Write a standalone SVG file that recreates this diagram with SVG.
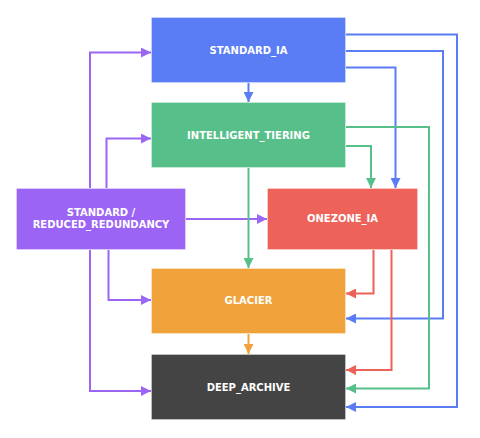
<svg xmlns="http://www.w3.org/2000/svg" width="480" height="438" viewBox="0 0 480 438">
<style>
.box{stroke:rgba(255,255,255,0.3);stroke-width:1}
.lbl{font-family:"DejaVu Sans","Liberation Sans",sans-serif;font-weight:bold;font-size:10px;fill:#ffffff;text-anchor:middle}
.c{fill:none;stroke-width:2;stroke-linejoin:miter}
.pu{stroke:#9c66f4}
.bl{stroke:#5a7df5}
.gr{stroke:#57c08a}
.rd{stroke:#ec6259}
.or{stroke:#f0a33c}
</style>
<defs>
<marker id="aPu" markerUnits="userSpaceOnUse" markerWidth="10" markerHeight="10" refX="10" refY="5" orient="auto"><path d="M0,0 L10,5 L0,10 z" fill="#9c66f4"/></marker>
<marker id="aBl" markerUnits="userSpaceOnUse" markerWidth="10" markerHeight="10" refX="10" refY="5" orient="auto"><path d="M0,0 L10,5 L0,10 z" fill="#5a7df5"/></marker>
<marker id="aGr" markerUnits="userSpaceOnUse" markerWidth="10" markerHeight="10" refX="10" refY="5" orient="auto"><path d="M0,0 L10,5 L0,10 z" fill="#57c08a"/></marker>
<marker id="aRd" markerUnits="userSpaceOnUse" markerWidth="10" markerHeight="10" refX="10" refY="5" orient="auto"><path d="M0,0 L10,5 L0,10 z" fill="#ec6259"/></marker>
<marker id="aOr" markerUnits="userSpaceOnUse" markerWidth="10" markerHeight="10" refX="10" refY="5" orient="auto"><path d="M0,0 L10,5 L0,10 z" fill="#f0a33c"/></marker>
</defs>
<rect width="480" height="438" fill="#ffffff"/>
<g id="nodes">
<g id="standard_ia"><rect class="box" x="151.5" y="17.5" width="194" height="65" fill="#5a7cf5"/><text class="lbl" x="248.5" y="53.5">STANDARD_IA</text></g>
<g id="intelligent_tiering"><rect class="box" x="151.5" y="102.5" width="194" height="65" fill="#57bf89"/><text class="lbl" x="248.5" y="138.5">INTELLIGENT_TIERING</text></g>
<g id="standard_rr"><rect class="box" x="16.5" y="188.5" width="169" height="61" fill="#9c64f4"/><text class="lbl" x="101" y="215.5">STANDARD /</text><text class="lbl" x="101" y="227.5">REDUCED_REDUNDANCY</text></g>
<g id="onezone_ia"><rect class="box" x="267.5" y="188.5" width="150" height="61" fill="#ed6259"/><text class="lbl" x="342.5" y="222">ONEZONE_IA</text></g>
<g id="glacier"><rect class="box" x="151.5" y="268.5" width="194" height="65" fill="#f0a33b"/><text class="lbl" x="248.5" y="304">GLACIER</text></g>
<g id="deep_archive"><rect class="box" x="151.5" y="354.5" width="194" height="65" fill="#444444"/><text class="lbl" x="248.5" y="390.5">DEEP_ARCHIVE</text></g>
</g>
<g id="connectors">
<path class="c pu" d="M90,188 V52.5 H151" marker-end="url(#aPu)"/>
<path class="c pu" d="M106.5,188 V138.5 H151" marker-end="url(#aPu)"/>
<path class="c pu" d="M186,219 H267" marker-end="url(#aPu)"/>
<path class="c pu" d="M108.5,250 V300 H151" marker-end="url(#aPu)"/>
<path class="c pu" d="M90,250 V391 H151" marker-end="url(#aPu)"/>
<path class="c bl" d="M248.5,83 V102" marker-end="url(#aBl)"/>
<path class="c bl" d="M346,34.5 H457 V407 H346" marker-end="url(#aBl)"/>
<path class="c bl" d="M346,51 H443 V318.5 H346" marker-end="url(#aBl)"/>
<path class="c bl" d="M346,67.5 H395.5 V188" marker-end="url(#aBl)"/>
<path class="c gr" d="M248.5,168 V268" marker-end="url(#aGr)"/>
<path class="c gr" d="M346,127 H429 V388.5 H346" marker-end="url(#aGr)"/>
<path class="c gr" d="M346,146 H371 V188" marker-end="url(#aGr)"/>
<path class="c rd" d="M373.5,250 V293.5 H346" marker-end="url(#aRd)"/>
<path class="c rd" d="M391.5,250 V370 H346" marker-end="url(#aRd)"/>
<path class="c or" d="M248.5,334 V354" marker-end="url(#aOr)"/>
</g>
</svg>
